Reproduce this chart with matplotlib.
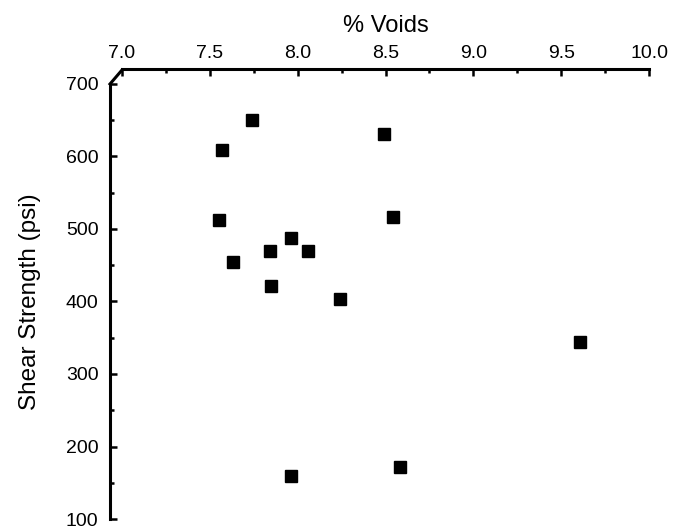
import matplotlib
matplotlib.use('Agg')
import matplotlib.pyplot as plt
from matplotlib.lines import Line2D
from matplotlib.ticker import MultipleLocator

plt.rcParams['font.family'] = ['Liberation Sans', 'DejaVu Sans']

# % voids vs shear strength
voids = [7.74, 7.57, 8.49, 7.55, 8.54, 7.96, 7.84, 8.06, 7.63, 7.85, 8.24, 9.61, 7.96, 8.58]
shear = [651, 609, 631, 512, 517, 488, 469, 469, 455, 422, 404, 344, 160, 172]

W, H = 676, 531
fig = plt.figure(figsize=(W / 100, H / 100), dpi=100)
x0, x1, y0, y1 = 122, 649, 84, 519
ax = fig.add_axes([x0 / W, 1 - y1 / H, (x1 - x0) / W, (y1 - y0) / H])

ax.plot(voids, shear, 's', color='black', markersize=9.3, clip_on=False)

ax.set_xlim(7.0, 10.0)
ax.set_ylim(100, 700)
ax.xaxis.set_major_locator(MultipleLocator(0.5))
ax.xaxis.set_minor_locator(MultipleLocator(0.25))
ax.yaxis.set_major_locator(MultipleLocator(100))
ax.yaxis.set_minor_locator(MultipleLocator(50))
ax.xaxis.set_major_formatter(plt.FormatStrFormatter('%.1f'))

ax.xaxis.tick_top()
ax.xaxis.set_label_position('top')
for s in ['right', 'bottom']:
    ax.spines[s].set_visible(False)
ax.spines['top'].set_position(('outward', 10.5))
ax.spines['left'].set_position(('outward', 9))
for s in ['top', 'left']:
    ax.spines[s].set_linewidth(2.2)

ax.tick_params(which='both', direction='in', width=1.8, labelsize=14)
ax.tick_params(which='major', length=5)
ax.tick_params(which='minor', length=3)
ax.tick_params(axis='x', pad=5)
ax.tick_params(axis='y', pad=8)

ax.set_xlabel('% Voids', fontsize=17, labelpad=10)
ax.set_ylabel('Shear Strength (psi)', fontsize=17.5, labelpad=18)

# diagonal joining the two offset spines at the corner
fig.add_artist(Line2D([110 / W, 122 / W], [1 - 84 / H, 1 - 70 / H],
                      transform=fig.transFigure, color='black', lw=2.2))

fig.savefig('out.png', dpi=100)
